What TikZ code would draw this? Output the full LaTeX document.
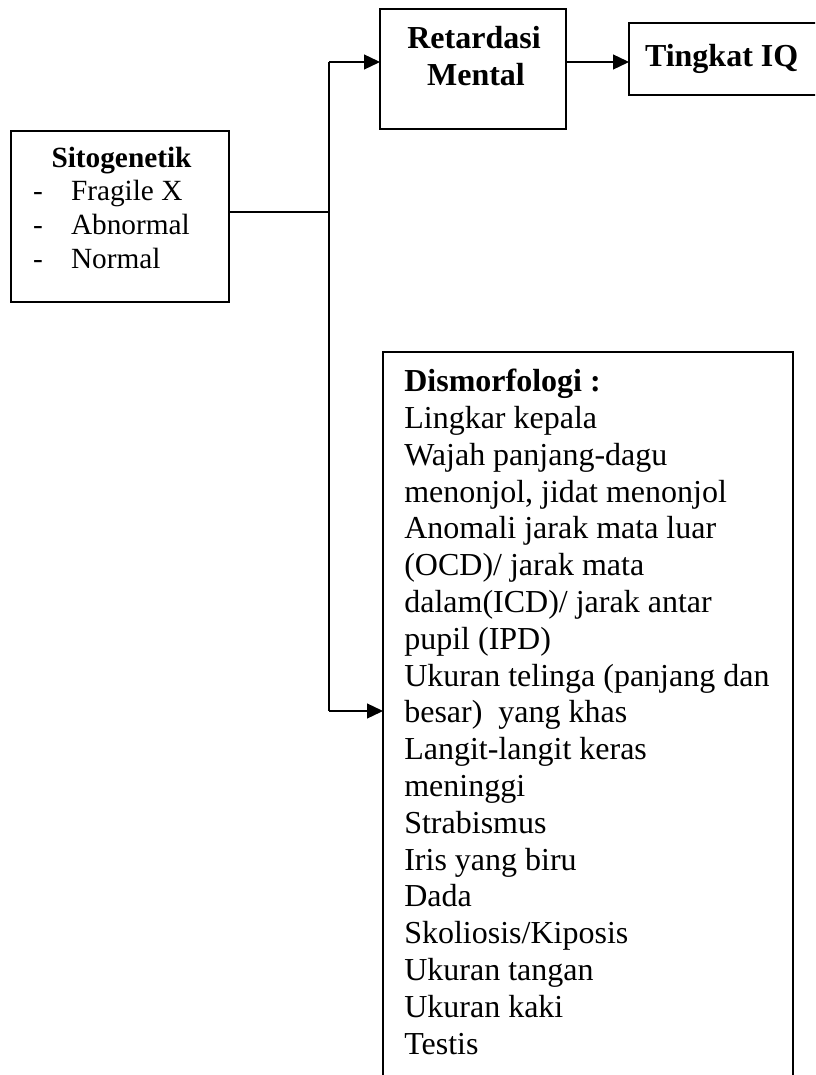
\documentclass[tikz,border=0pt]{standalone}
\usepackage{fontspec}
\setmainfont{Liberation Serif}
\usetikzlibrary{arrows.meta}
\tikzset{
  boxshape/.style={draw, rectangle, line width=1.3pt, inner sep=0pt, outer sep=0pt},
  txt/.style={inner sep=0pt, outer sep=0pt},
  bigfont/.style={font=\fontsize{32}{36.8}\selectfont},
  smallfont/.style={font=\fontsize{29.3}{33.7}\selectfont},
  conn/.style={line width=1.3pt},
  arr/.style={line width=1.3pt, -{Triangle[length=16pt,width=15pt]}}
}
\begin{document}
\begin{tikzpicture}[x=1pt,y=-1pt]
\clip (0,0) rectangle (815,1075);
\fill[white] (0,0) rectangle (815,1075);
% boxes
\node[boxshape, minimum width=218pt, minimum height=171pt] (sito) at (120,216.5) {};
\node[boxshape, minimum width=186pt, minimum height=120pt] (retard) at (473,69) {};
\node[boxshape, minimum width=201pt, minimum height=72pt] (iq) at (729.5,59) {};
\node[boxshape, minimum width=410pt, minimum height=738pt] (dism) at (588,721) {};
% texts
\node[txt, smallfont, anchor=base] (sitot) at (121.5,168) {\bfseries Sitogenetik};
\node[txt, smallfont, anchor=base west] (d1) at (33,201) {-};
\node[txt, smallfont, anchor=base west] (d2) at (33,235) {-};
\node[txt, smallfont, anchor=base west] (d3) at (33,268) {-};
\node[txt, smallfont, anchor=base west] (s1) at (71,201) {Fragile X};
\node[txt, smallfont, anchor=base west] (s2) at (71,235) {Abnormal};
\node[txt, smallfont, anchor=base west] (s3) at (71,268) {Normal};
\node[txt, bigfont, anchor=base] (rt1) at (474,49) {\bfseries Retardasi};
\node[txt, bigfont, anchor=base] (rt2) at (476,86) {\bfseries Mental};
\node[txt, bigfont, anchor=base west] (iqt) at (645,67) {\bfseries Tingkat IQ};
\node[txt, bigfont, anchor=base west] (dt) at (404.3,391.7) {\vtop{\lineskiplimit=-\maxdimen
  \hbox{\bfseries Dismorfologi :}
  \hbox{Lingkar kepala}
  \hbox{Wajah panjang-dagu}
  \hbox{menonjol, jidat menonjol}
  \hbox{Anomali jarak mata luar}
  \hbox{(OCD)/ jarak mata}
  \hbox{dalam(ICD)/ jarak antar}
  \hbox{pupil (IPD)}
  \hbox{Ukuran telinga (panjang dan}
  \hbox{besar)\ \ yang khas}
  \hbox{Langit-langit keras}
  \hbox{meninggi}
  \hbox{Strabismus}
  \hbox{Iris yang biru}
  \hbox{Dada}
  \hbox{Skoliosis/Kiposis}
  \hbox{Ukuran tangan}
  \hbox{Ukuran kaki}
  \hbox{Testis}}};
% connectors
\coordinate (jtop) at (329,62);
\coordinate (jmid) at (329,212);
\coordinate (jbot) at (329,711);
\draw[conn] (sito.east |- jmid) -- (jmid);
\draw[conn] (jtop) -- (jbot);
\draw[arr] (jtop) -- (jtop -| retard.west);
\draw[arr] (jbot) -- (jbot -| dism.west);
\draw[arr] (jtop -| retard.east) -- (jtop -| iq.west);
\end{tikzpicture}
\end{document}
